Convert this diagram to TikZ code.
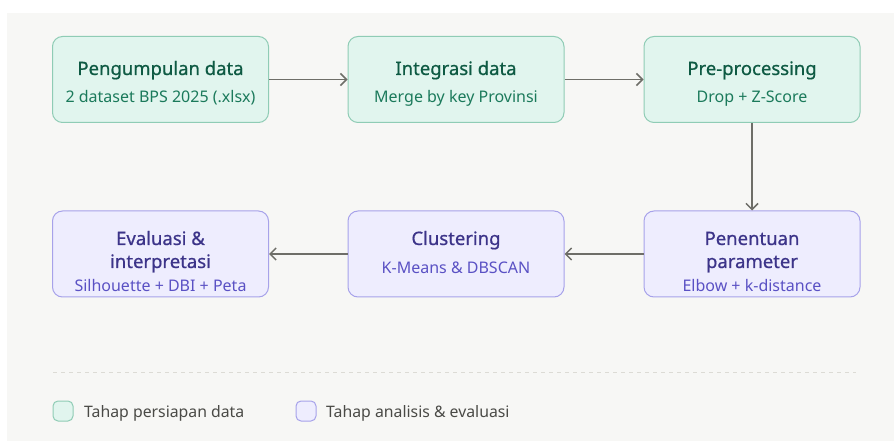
\documentclass[tikz,border=0pt]{standalone}
\usepackage{fontspec}
\setmainfont{Noto Sans}
\newfontfamily\titlefont[FakeBold=0.7]{Noto Sans}
\usetikzlibrary{arrows.meta}

\definecolor{panelbg}{HTML}{F7F7F5}
\definecolor{tealfill}{HTML}{E1F5EE}
\definecolor{tealline}{HTML}{8FCCB5}
\definecolor{tealtitle}{HTML}{0E5A43}
\definecolor{tealsub}{HTML}{1B7A5B}
\definecolor{purpfill}{HTML}{EEEDFE}
\definecolor{purpline}{HTML}{A7A2EA}
\definecolor{purptitle}{HTML}{3C3489}
\definecolor{purpsub}{HTML}{5A51C4}
\definecolor{arrowgrey}{HTML}{6E6E68}
\definecolor{dashgrey}{HTML}{DCDBD5}
\definecolor{legendtext}{HTML}{4A4A46}

\tikzset{
  stagebox/.style={rounded corners=10pt, minimum width=216pt, minimum height=86pt,
                   line width=1pt, inner sep=0pt},
  prepbox/.style={stagebox, fill=tealfill, draw=tealline},
  anabox/.style={stagebox, fill=purpfill, draw=purpline},
  prepttl/.style={anchor=base, inner sep=0pt, text=tealtitle, font=\titlefont\fontsize{18.5}{22}\selectfont},
  prepsub/.style={anchor=base, inner sep=0pt, text=tealsub, font=\fontsize{16}{19}\selectfont},
  anattl/.style={anchor=base, inner sep=0pt, text=purptitle, font=\titlefont\fontsize{18.5}{22}\selectfont},
  anasub/.style={anchor=base, inner sep=0pt, text=purpsub, font=\fontsize{16}{19}\selectfont},
  flow/.style={draw=arrowgrey, line width=1.5pt,
               -{Straight Barb[length=6pt,width=12pt,line width=1.5pt]}},
  keybox/.style={rounded corners=5pt, minimum width=20pt, minimum height=20pt,
                 line width=1pt, inner sep=0pt},
  keytext/.style={anchor=west, inner sep=0pt, text=legendtext, font=\fontsize{15.8}{19}\selectfont},
}

\begin{document}
\begin{tikzpicture}[x=1pt, y=-1pt]
  \useasboundingbox (0,0) rectangle (894,443);
  \fill[panelbg] (7,13) rectangle (894,441);

  % top row: data preparation
  \node[prepbox] (collect) at (160.5,79.5) {};
  \node[prepbox] (merge)   at (456,79.5) {};
  \node[prepbox] (prep)    at (752,79.5) {};

  % bottom row: analysis and evaluation
  \node[anabox] (eval)   at (160.5,254) {};
  \node[anabox] (clust)  at (456,254) {};
  \node[anabox] (param)  at (752,254) {};

  % labels
  \node[prepttl] at (160.5,75) {Pengumpulan data};
  \node[prepsub] at (160.5,103) {2 dataset BPS 2025 (.xlsx)};
  \node[prepttl] at (456,75) {Integrasi data};
  \node[prepsub] at (456,103) {Merge by key Provinsi};
  \node[prepttl] at (752,75) {Pre-processing};
  \node[prepsub] at (752,103) {Drop + Z-Score};

  \node[anattl] at (160.5,245) {Evaluasi \&};
  \node[anattl] at (160.5,268) {interpretasi};
  \node[anasub] at (160.5,292) {Silhouette + DBI + Peta};
  \node[anattl] at (456,245) {Clustering};
  \node[anasub] at (456,274) {K-Means \& DBSCAN};
  \node[anattl] at (752,245) {Penentuan};
  \node[anattl] at (752,268) {parameter};
  \node[anasub] at (752,292) {Elbow + k-distance};

  % flow connectors
  \draw[flow] (collect.east) -- (merge.west);
  \draw[flow] (merge.east) -- (prep.west);
  \draw[flow] (prep.south) -- (param.north);
  \draw[flow] (param.west) -- (clust.east);
  \draw[flow] (clust.west) -- (eval.east);

  % legend
  \coordinate (sepL) at (53,373);
  \coordinate (sepR) at (856,373);
  \draw[dashgrey, line width=1pt, dash pattern=on 4pt off 4pt] (sepL) -- (sepR);
  \node[keybox, fill=tealfill, draw=tealline] (keyprep) at (63,411) {};
  \node[keytext] (keyprepT) at (84,413) {Tahap persiapan data};
  \node[keybox, fill=purpfill, draw=purpline] (keyana) at (306,411) {};
  \node[keytext] (keyanaT) at (326,413) {Tahap analisis \& evaluasi};
\end{tikzpicture}
\end{document}
